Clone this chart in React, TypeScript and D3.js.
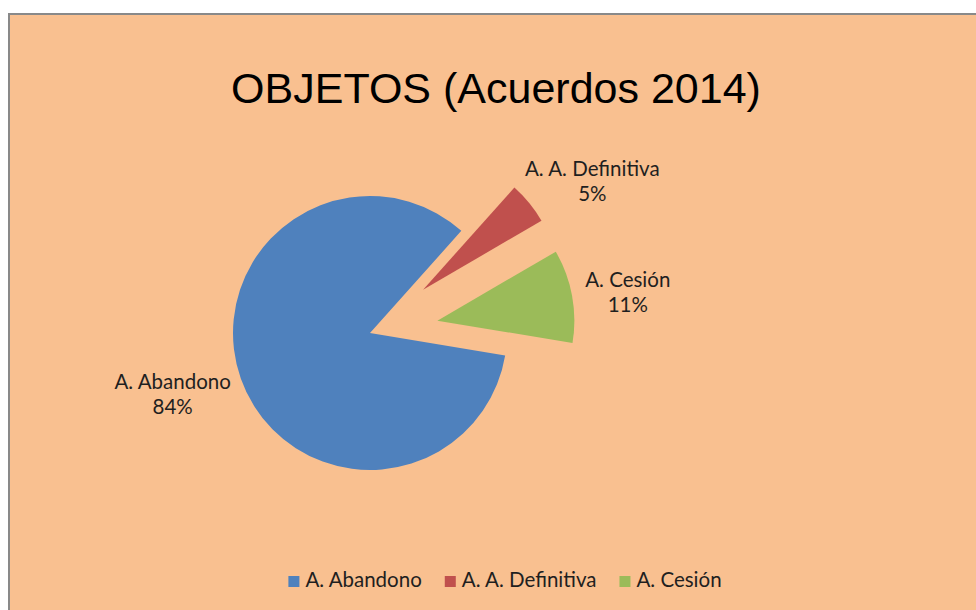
import { useRef, useEffect } from 'react';
import * as d3 from 'd3';

const CATEGORIES = ['A. Abandono', 'A. A. Definitiva', 'A. Cesión'];
const VALUES = [84, 5, 11];
const EXPLODE = [0, 0.5, 0.5];
const COLORS = ['#4F81BD', '#C0504D', '#9BBB59'];
const TITLE = 'OBJETOS (Acuerdos 2014)';

const LABEL_FONT = 'Lato, "Open Sans", sans-serif';

export default function App() {
  const svgRef = useRef<SVGSVGElement>(null);

  useEffect(() => {
    const svg = d3.select(svgRef.current);
    svg.selectAll('*').remove();

    const width = 976;
    const height = 610;

    // chart area (runs off the right and bottom edge like the original)
    svg.append('rect')
      .attr('x', 9).attr('y', 14)
      .attr('width', width + 10).attr('height', height)
      .attr('fill', '#F9C090')
      .attr('stroke', '#898989')
      .attr('stroke-width', 2);

    svg.append('text')
      .attr('x', 496).attr('y', 103)
      .attr('text-anchor', 'middle')
      .attr('font-family', '"Liberation Sans", Arial, sans-serif')
      .attr('font-size', 43)
      .attr('fill', '#000')
      .text(TITLE);

    const cx = 370, cy = 333, r = 137;
    const start = (99.4 * Math.PI) / 180;
    const pie = d3.pie<number>()
      .sort(null)
      .startAngle(start)
      .endAngle(start + 2 * Math.PI);
    const arcs = pie(VALUES);
    const arc = d3.arc<d3.PieArcDatum<number>>().innerRadius(0).outerRadius(r);
    const total = d3.sum(VALUES);

    const g = svg.append('g').attr('transform', `translate(${cx},${cy})`);

    const dirOf = (d: d3.PieArcDatum<number>) => {
      const a = (d.startAngle + d.endAngle) / 2;
      return [Math.sin(a), -Math.cos(a)];
    };

    g.selectAll('path')
      .data(arcs)
      .join('path')
      .attr('transform', (d, i) => {
        const [dx, dy] = dirOf(d);
        const off = EXPLODE[i] * r;
        return `translate(${dx * off},${dy * off})`;
      })
      .attr('d', arc)
      .attr('fill', (d, i) => COLORS[i]);

    // data labels at outside end, along each slice's bisector
    arcs.forEach((d, i) => {
      const [dx, dy] = dirOf(d);
      const off = EXPLODE[i] * r + r + 14;
      const lbl = g.append('text')
        .attr('font-family', LABEL_FONT)
        .attr('font-size', 20.5)
        .attr('fill', '#1f1f1f')
        .attr('text-anchor', 'middle');
      lbl.append('tspan').attr('x', 0).attr('dy', 0).text(CATEGORIES[i]);
      lbl.append('tspan').attr('x', 0).attr('dy', 25)
        .text(`${Math.round((VALUES[i] / total) * 100)}%`);
      const w = (lbl.node() as SVGTextElement).getBBox().width;
      const h = 50;
      const px = dx * off + (dx * w) / 2;
      const py = dy * off + (dy * h) / 2;
      lbl.attr('transform', `translate(${px},${py - 2})`);
    });

    // legend
    const legend = svg.append('g');
    let x = 0;
    CATEGORIES.forEach((c, i) => {
      const item = legend.append('g').attr('transform', `translate(${x},0)`);
      item.append('rect')
        .attr('x', 0).attr('y', -11)
        .attr('width', 11).attr('height', 11)
        .attr('fill', COLORS[i]);
      const t = item.append('text')
        .attr('x', 17).attr('y', 0)
        .attr('font-family', LABEL_FONT)
        .attr('font-size', 20.5)
        .attr('fill', '#1f1f1f')
        .text(c);
      x += 17 + (t.node() as SVGTextElement).getComputedTextLength() + 23;
    });
    const lw = x - 23;
    legend.attr('transform', `translate(${505 - lw / 2},587)`);
  }, []);

  return (
    <svg
      ref={svgRef}
      width={976}
      height={610}
      style={{ position: 'absolute', left: 0, top: 0 }}
    />
  );
}
